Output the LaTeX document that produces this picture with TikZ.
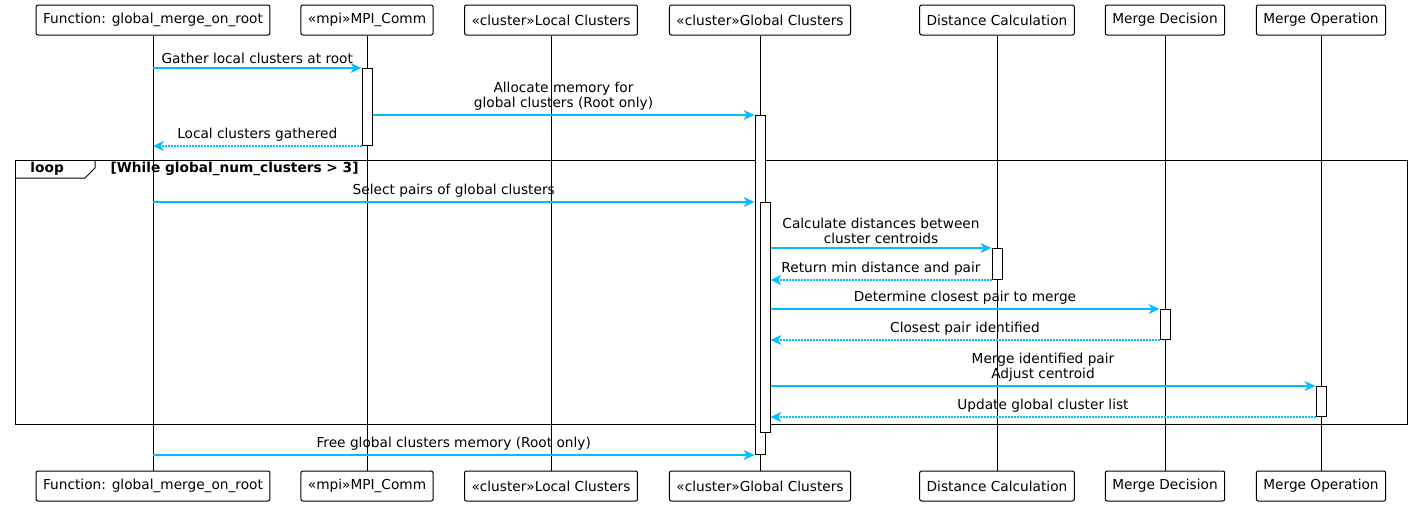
\documentclass[tikz,border=0pt]{standalone}
\usepackage{fontspec}
\setmainfont{DejaVu Sans}
\usetikzlibrary{arrows.meta}
\definecolor{msgblue}{RGB}{0,190,255}

\tikzset{
  part/.style={draw, rounded corners=2pt, minimum height=30pt, inner xsep=7pt, font=\fontsize{13.7}{15}\selectfont},
  act/.style={draw, fill=white, minimum width=10pt, inner sep=0pt, anchor=north},
  msg/.style={-{Stealth[length=11pt,width=10pt,inset=3.5pt]}, draw=msgblue, line width=1.6pt},
  ret/.style={msg, dash pattern=on 1.6pt off 1.4pt},
  lbl/.style={above, inner sep=3.5pt, align=center, font=\fontsize{13.7}{15.5}\selectfont},
  guard/.style={anchor=west, inner sep=0pt, font=\fontsize{13.7}{15}\selectfont\bfseries},
}

\begin{document}
\begin{tikzpicture}[x=1pt, y=-1pt, line width=1pt]
  \useasboundingbox (0,0) rectangle (1411,506);
  \foreach \nm/\x/\txt in {fn/153/{Function: global\_merge\_on\_root}, mpi/367/{«mpi»MPI\_Comm},
      loc/551/{«cluster»Local Clusters}, glob/760/{«cluster»Global Clusters},
      dist/997/{Distance Calculation}, dec/1165/{Merge Decision}, op/1321/{Merge Operation}}
  {
    \node[part] (\nm) at (\x,20) {\txt};
    \node[part] (\nm-b) at (\x,486) {\txt};
    \draw (\nm) -- (\nm-b);
  }

  \draw (15,160) rectangle (1407,424);
  \draw (15,178) -- (85,178) -- (95,168) -- (95,160);
  \node[guard] (looptag) at (30,169) {loop};
  \node[guard] (cond) at (110,169) {[While global\_num\_clusters > 3]};

  \node[act, minimum height=77pt] (a1) at (367,68) {};
  \node[act, minimum height=339pt] (a2) at (760,115) {};
  \node[act, minimum height=230pt] (a3) at (765,202) {};
  \node[act, minimum height=31pt] (a4) at (997,248) {};
  \node[act, minimum height=30pt] (a5) at (1165,309) {};
  \node[act, minimum height=30pt] (a6) at (1321,386) {};

  \draw[msg] (fn |- a1.north) -- node[lbl] {Gather local clusters at root} (a1.north west);
  \draw[msg] (a1.east |- a2.north) -- node[lbl] {Allocate memory for\\global clusters (Root only)} (a2.north west);
  \draw[ret] (a1.south west) -- node[lbl] {Local clusters gathered} (fn |- a1.south);
  \draw[msg] (fn |- a3.north) -- node[lbl] {Select pairs of global clusters} (a2.west |- a3.north);
  \draw[msg] (a3.east |- a4.north) -- node[lbl] {Calculate distances between\\cluster centroids} (a4.north west);
  \draw[ret] (a4.south west) -- node[lbl] {Return min distance and pair} (a3.east |- a4.south);
  \draw[msg] (a3.east |- a5.north) -- node[lbl] {Determine closest pair to merge} (a5.north west);
  \draw[ret] (a5.south west) -- node[lbl] {Closest pair identified} (a3.east |- a5.south);
  \draw[msg] (a3.east |- a6.north) -- node[lbl] {Merge identified pair\\Adjust centroid} (a6.north west);
  \draw[ret] (a6.south west) -- node[lbl] {Update global cluster list} (a3.east |- a6.south);
  \draw[msg] (fn |- a2.south) -- node[lbl] {Free global clusters memory (Root only)} (a2.south west);
\end{tikzpicture}
\end{document}
